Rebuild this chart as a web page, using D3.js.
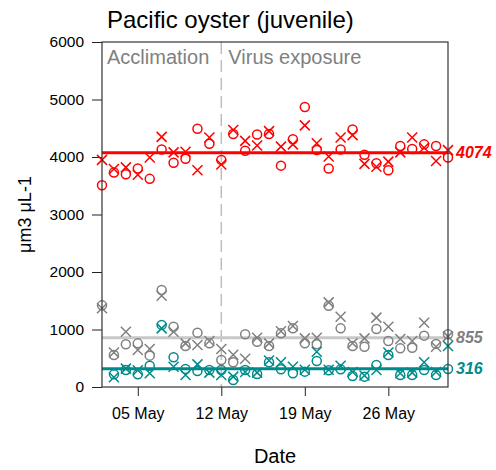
<!DOCTYPE html>
<html lang="en">
<head>
<meta charset="UTF-8">
<title>Pacific oyster (juvenile)</title>
<script src="https://d3js.org/d3.v7.min.js"></script>
<style>
  body { margin: 0; background: #fff; }
  text { font-family: "Liberation Sans", Arial, sans-serif; }
</style>
</head>
<body>
<div id="chart"></div>
<script>
// one value per day, 02 May .. 31 May
const startDay = "2021-05-02";
const redCircle  = [3510,3730,3700,3800,3620,4130,3900,3970,4490,4230, 3950,4400,4110,4390,4400,3850,4310,4870,4120,3800, 4130,4480,4040,3890,3770,4190,4140,4220,4190,3990];
const redCross   = [3950,3790,3820,3690,3990,4350,4080,4090,3770,4340, 3870,4470,4280,4200,4450,4180,4220,4550,4240,4010, 4340,4380,3880,3830,3920,4080,4340,4160,3930,4120];
const grayCircle = [1420,557,742,759,545,1687,1049,713,945,759, 470,430,916,788,713,933,1020,759,742,1414, 1020,713,701,1009,800,672,684,893,750,916];
const grayCross  = [1370,600,962,643,661,1588,962,759,730,800, 661,560,490,858,759,970,1060,846,858,1472, 1223,760,846,1206,1049,835,800,1119,700,880];
const tealCircle = [null,220,296,220,371,1080,516,313,278,296, 296,122,296,226,429,307,238,267,452,290, 307,191,180,383,557,209,209,296,209,313];
const tealCross  = [null,170,320,290,238,1020,353,209,394,250, 209,180,260,250,460,429,353,300,614,300, 371,260,200,296,600,240,250,429,260,713];
const meanValues = [4074, 855, 316];
const yTicks = [0, 1000, 2000, 3000, 4000, 5000, 6000];
const xTickDays = ["2021-05-05", "2021-05-12", "2021-05-19", "2021-05-26"];
const exposureDay = "2021-05-12";

const W = 496, H = 470;
const m = { top: 42, right: 48, bottom: 83, left: 102 };
const pw = W - m.left - m.right, ph = H - m.top - m.bottom;

const parse = d3.timeParse("%Y-%m-%d");
const day0 = parse(startDay);
const dates = redCircle.map((d, i) => d3.timeDay.offset(day0, i));

const x = d3.scaleTime().domain([dates[0], dates[dates.length - 1]]).range([0, pw]);
const y = d3.scaleLinear().domain([0, 6000]).range([ph, 0]);

const svg = d3.select("#chart").append("svg")
    .attr("width", W).attr("height", H);
const g = svg.append("g").attr("transform", `translate(${m.left},${m.top})`);

// axes
const yAxis = g.append("g")
    .call(d3.axisLeft(y).tickValues(yTicks).tickSize(10).tickPadding(8).tickFormat(d3.format("d")));
yAxis.select(".domain").remove();
yAxis.selectAll("text").style("font-size", "15.5px").attr("fill", "#000");
yAxis.selectAll("line").attr("stroke", "#222");

const xAxis = g.append("g").attr("transform", `translate(0,${ph})`)
    .call(d3.axisBottom(x).tickValues(xTickDays.map(parse)).tickSize(9).tickPadding(12).tickFormat(d3.timeFormat("%d %b")));
xAxis.select(".domain").remove();
xAxis.selectAll("text").style("font-size", "16px").attr("fill", "#000");
xAxis.selectAll("line").attr("stroke", "#222");

// exposure line and phase labels
g.append("line")
    .attr("x1", x(parse(exposureDay))).attr("x2", x(parse(exposureDay)))
    .attr("y1", 0).attr("y2", ph)
    .attr("stroke", "#bdbdbd").attr("stroke-width", 1.5)
    .attr("stroke-dasharray", "12,6");
g.append("text").attr("x", 5).attr("y", 22)
    .attr("fill", "#808080").style("font-size", "20px").text("Acclimation");
g.append("text").attr("x", x(parse(exposureDay)) + 7).attr("y", 22)
    .attr("fill", "#808080").style("font-size", "20px").text("Virus exposure");

// series
const series = [
  { circle: redCircle,  cross: redCross,  mean: meanValues[0], color: "#ff0000", line: "#ff0000", label: "#ff0000" },
  { circle: grayCircle, cross: grayCross, mean: meanValues[1], color: "#808080", line: "#c8c8c8", label: "#808080" },
  { circle: tealCircle, cross: tealCross, mean: meanValues[2], color: "#008b8b", line: "#008b8b", label: "#008b8b" }
];

series.forEach(s => {
  g.append("line")
      .attr("x1", 0).attr("x2", pw)
      .attr("y1", y(s.mean)).attr("y2", y(s.mean))
      .attr("stroke", s.line).attr("stroke-width", 3);

  g.append("g").selectAll("circle")
    .data(s.circle.map((v, i) => ({ v, d: dates[i] })).filter(d => d.v != null))
    .join("circle")
      .attr("cx", d => x(d.d)).attr("cy", d => y(d.v)).attr("r", 4.5)
      .attr("fill", "none").attr("stroke", s.color).attr("stroke-width", 1.5);

  g.append("g").selectAll("path")
    .data(s.cross.map((v, i) => ({ v, d: dates[i] })).filter(d => d.v != null))
    .join("path")
      .attr("transform", d => `translate(${x(d.d)},${y(d.v)})`)
      .attr("d", "M-5,-5L5,5M-5,5L5,-5")
      .attr("fill", "none").attr("stroke", s.color).attr("stroke-width", 1.5);

  g.append("text")
      .attr("x", pw + 8).attr("y", y(s.mean)).attr("dy", "0.35em")
      .attr("fill", s.label).style("font-size", "16px")
      .style("font-weight", "bold").style("font-style", "italic")
      .text(s.mean);
});

// panel border
g.append("rect").attr("width", pw).attr("height", ph)
    .attr("fill", "none").attr("stroke", "#333").attr("stroke-width", 1.2);

// titles
svg.append("text").attr("x", m.left + 5).attr("y", 28)
    .style("font-size", "24px").attr("fill", "#000").text("Pacific oyster (juvenile)");
svg.append("text").attr("x", m.left + pw / 2).attr("y", 463)
    .attr("text-anchor", "middle").style("font-size", "20px").text("Date");
svg.append("text")
    .attr("transform", `translate(31,${m.top + ph / 2}) rotate(-90)`)
    .attr("text-anchor", "middle").style("font-size", "18px").text("μm3 μL-1");
</script>
</body>
</html>
